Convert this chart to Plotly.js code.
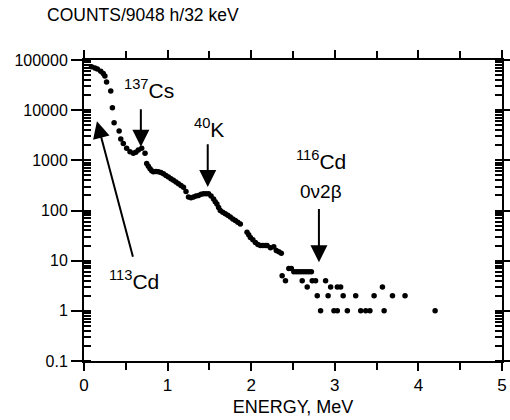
<!DOCTYPE html>
<html>
<head>
<meta charset="utf-8">
<script src="https://cdn.plot.ly/plotly-3.0.1.min.js"></script>
<style>
html,body{margin:0;padding:0;background:#fff;}
#chart{width:510px;height:420px;}
</style>
</head>
<body>
<div id="chart"></div>
<script>
// Spectrum: energy (MeV) and counts per 32 keV bin
const energyMeV = [
  0.09,0.13,0.16,0.20,0.23,0.25,0.27,0.32,0.34,0.36,0.42,0.44,0.47,0.51,0.55,0.59,0.62,0.65,0.69,0.73,
  0.75,0.77,0.79,0.81,0.83,0.86,0.89,0.92,0.95,0.98,1.01,1.04,1.07,1.10,1.13,1.16,1.19,1.22,1.25,1.28,
  1.31,1.34,1.37,1.40,1.43,1.46,1.49,1.52,1.55,1.57,1.59,1.61,1.63,1.66,1.69,1.72,1.75,1.78,1.81,1.84,
  1.87,1.95,1.97,1.99,2.02,2.05,2.08,2.11,2.14,2.17,2.19,2.23,2.27,2.30,2.33,2.36,
  2.37,2.41,2.45,2.48,2.51,2.54,2.57,2.60,2.63,2.66,2.69,2.72,
  2.61,2.67,2.73,2.77,2.89,2.95,3.03,3.07,3.57,
  2.79,2.92,3.10,3.25,3.47,3.69,3.84,
  2.83,2.99,3.03,3.15,3.31,3.37,3.42,3.59,4.20
];
const counts = [
  73000,69000,66000,60000,54000,48000,36500,24000,11200,5600,3850,2650,2170,1740,1490,1380,1450,1600,1740,1380,
  860,760,680,620,590,600,590,570,540,500,465,430,400,370,340,315,290,240,185,180,
  185,195,200,210,215,215,215,195,170,150,135,115,100,92,86,80,74,68,63,58,
  54,37,33,29,26,23,21,20,20,20,20,18,19,16,15,14,
  5,4,7,7,6,6,6,6,6,6,6,6,
  4,3,4,4,4,3,3,3,3,
  2,2,2,2,2,2,2,
  1,1,1,1,1,1,1,1,1
];

// Labels: [text, energy, log10 counts, xanchor, font size]
const lineLabels = [
  ["<sup>137</sup>Cs", 0.46, 4.42, "left", 21],
  ["<sup>40</sup>K", 1.29, 3.64, "left", 21],
  ["<sup>116</sup>Cd", 2.51, 3.0, "left", 21],
  ["0ν2β", 2.84, 2.37, "center", 19],
  ["<sup>113</sup>Cd", 0.27, 0.62, "left", 21]
];
// Arrows: [tip energy, tip log10, tail energy, tail log10]
const arrows = [
  [0.68, 3.27, 0.68, 4.05],
  [1.48, 2.47, 1.48, 3.35],
  [2.81, 0.97, 2.81, 2.06],
  [0.155, 3.78, 0.59, 1.05]
];

const FONT = "Liberation Sans, Arial, Helvetica, sans-serif";

const annotations = [];
lineLabels.forEach(l => {
  annotations.push({
    text: l[0], x: l[1], y: l[2], xref: "x", yref: "y",
    xanchor: l[3], yanchor: "middle", showarrow: false,
    font: {family: FONT, size: l[4], color: "#000"}
  });
});
arrows.forEach(a => {
  annotations.push({
    x: a[0], y: a[1], ax: a[2], ay: a[3], xref: "x", yref: "y", axref: "x", ayref: "y",
    text: "", showarrow: true, arrowhead: 2, arrowsize: 1.7, arrowwidth: 2, arrowcolor: "#000", standoff: 0
  });
});
annotations.push({
  text: "COUNTS/9048 h/32 keV", xref: "paper", yref: "paper", x: -0.094, y: 1.148,
  xanchor: "left", yanchor: "middle", showarrow: false,
  font: {family: FONT, size: 17.5, color: "#000"}
});

const trace = {
  x: energyMeV, y: counts, type: "scatter", mode: "markers",
  marker: {color: "#000", size: 5.5}, hoverinfo: "skip"
};

const layout = {
  width: 510, height: 420,
  margin: {l: 84, r: 8, t: 60, b: 59},
  paper_bgcolor: "#fff", plot_bgcolor: "#fff",
  showlegend: false,
  font: {family: FONT, size: 16, color: "#000"},
  xaxis: {
    range: [0, 5], dtick: 1,
    ticks: "outside", ticklen: 8, tickwidth: 2, tickcolor: "#000",
    showline: true, linewidth: 2, linecolor: "#000", mirror: "allticks",
    showgrid: false, zeroline: false,
    minor: {dtick: 0.5, ticks: "outside", ticklen: 7, tickwidth: 2, tickcolor: "#000"},
    tickfont: {family: FONT, size: 17},
    title: {text: "ENERGY, MeV", font: {family: FONT, size: 18}, standoff: 6}
  },
  yaxis: {
    type: "log", range: [-1, 5], dtick: 1, tickformat: "~g",
    ticks: "outside", ticklen: 11, tickwidth: 2, tickcolor: "#000",
    showline: true, linewidth: 2, linecolor: "#000", mirror: "allticks",
    showgrid: false, zeroline: false,
    minor: {dtick: "D1", ticks: "inside", ticklen: 7, tickwidth: 2, tickcolor: "#000"},
    tickfont: {family: FONT, size: 16}
  },
  annotations: annotations
};

Plotly.newPlot("chart", [trace], layout, {displayModeBar: false, staticPlot: true});
</script>
</body>
</html>
